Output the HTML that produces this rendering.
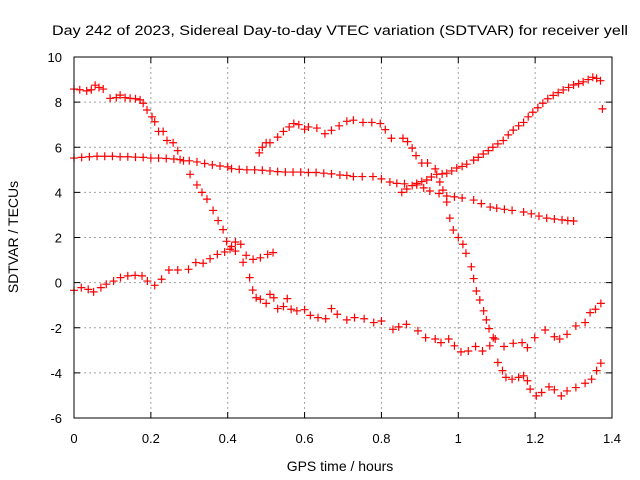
<!DOCTYPE html>
<html><head><meta charset="utf-8"><style>
body{margin:0;background:#fff}
svg{display:block;font-family:"Liberation Sans",sans-serif}
</style></head><body>
<svg id="chart" width="640" height="480" viewBox="0 0 640 480" xmlns="http://www.w3.org/2000/svg">
<rect width="640" height="480" fill="#fff"/>
<text x="340" y="35" font-size="13.5" text-anchor="middle" textLength="576" lengthAdjust="spacingAndGlyphs">Day 242 of 2023, Sidereal Day-to-day VTEC variation (SDTVAR) for receiver yell</text>
<text x="340" y="471" font-size="14" text-anchor="middle">GPS time / hours</text>
<text transform="translate(18,237) rotate(-90)" font-size="14" text-anchor="middle">SDTVAR / TECUs</text>
<g id="grid"></g><g id="ticks"></g><g id="marks"></g>
<rect x="74" y="57" width="538" height="361" fill="none" stroke="#000" stroke-width="1"/>
</svg>
<script>
const xTicks=[0,0.2,0.4,0.6,0.8,1,1.2,1.4];
const xTickLabels=["0","0.2","0.4","0.6","0.8","1","1.2","1.4"];
const yTicks=[-6,-4,-2,0,2,4,6,8,10];
const yTickLabels=["-6","-4","-2","0","2","4","6","8","10"];
const xA=[0,0.015,0.033,0.045,0.055,0.065,0.076,0.094,0.11,0.12,0.133,0.146,0.16,0.172,0.18,0.19,0.203,0.21,0.22,0.232,0.242,0.258,0.27,0.285,0.302,0.32,0.333,0.346,0.362,0.375,0.388,0.397,0.41,0.42,0.44,0.457,0.465,0.474,0.485,0.5,0.51,0.52,0.53,0.545,0.555,0.565,0.58,0.6,0.615,0.635,0.655,0.67,0.685,0.71,0.73,0.755,0.78,0.8,0.83,0.845,0.865,0.895,0.915,0.94,0.955,0.975,0.99,1.007,1.026,1.045,1.063,1.082,1.096,1.119,1.143,1.166,1.18,1.199,1.226,1.25,1.264,1.283,1.306,1.33,1.343,1.357,1.371];
const yA=[8.58,8.55,8.5,8.55,8.75,8.65,8.58,8.17,8.2,8.31,8.2,8.17,8.15,8.1,7.95,7.65,7.35,7.13,6.7,6.7,6.3,6.2,5.85,5.4,4.8,4.33,4.0,3.7,3.2,2.75,2.35,1.83,1.6,1.4,0.9,0.22,-0.33,-0.67,-0.74,-0.92,-0.52,-0.67,-1.15,-1.06,-0.71,-1.18,-1.25,-1.2,-1.45,-1.55,-1.6,-1.15,-1.4,-1.65,-1.55,-1.6,-1.77,-1.7,-2.07,-1.96,-1.85,-2.14,-2.44,-2.5,-2.66,-2.5,-2.8,-3.07,-3.03,-2.83,-3.03,-2.8,-2.5,-2.83,-2.69,-2.66,-2.88,-2.44,-2.1,-2.4,-2.5,-2.29,-1.92,-1.77,-1.33,-1.18,-0.92];
const xB=[0,0.02,0.04,0.06,0.08,0.1,0.12,0.14,0.16,0.18,0.2,0.22,0.24,0.26,0.276,0.3,0.32,0.34,0.36,0.38,0.4,0.41,0.43,0.45,0.47,0.49,0.51,0.53,0.55,0.57,0.59,0.61,0.63,0.65,0.67,0.692,0.71,0.727,0.75,0.778,0.8,0.822,0.84,0.86,0.892,0.91,0.926,0.95,0.97,0.99,1.01,1.04,1.06,1.083,1.1,1.12,1.14,1.17,1.19,1.21,1.23,1.25,1.27,1.285,1.3];
const yB=[5.52,5.55,5.58,5.6,5.6,5.6,5.58,5.58,5.56,5.55,5.52,5.52,5.5,5.48,5.45,5.4,5.35,5.28,5.22,5.17,5.13,5.05,5.02,5.0,5.0,4.98,4.95,4.92,4.9,4.9,4.9,4.88,4.88,4.85,4.82,4.77,4.75,4.7,4.7,4.7,4.6,4.46,4.4,4.38,4.33,4.2,4.06,3.95,3.84,3.8,3.75,3.66,3.5,3.35,3.3,3.25,3.2,3.13,3.05,2.95,2.86,2.82,2.78,2.75,2.73];
const xC=[0,0.019,0.037,0.051,0.07,0.084,0.103,0.121,0.14,0.159,0.177,0.191,0.21,0.228,0.247,0.27,0.298,0.317,0.336,0.354,0.373,0.392,0.406,0.42,0.434,0.448,0.466,0.485,0.504,0.518];
const yC=[-0.34,-0.22,-0.3,-0.41,-0.22,-0.07,0.07,0.22,0.3,0.32,0.3,0.07,-0.12,0.15,0.56,0.56,0.59,0.89,0.86,1.06,1.25,1.36,1.48,1.8,1.7,1.21,1.03,1.1,1.25,1.33];
const xD=[0.482,0.49,0.5,0.51,0.53,0.545,0.56,0.572,0.585,0.6,0.61,0.632,0.653,0.67,0.69,0.71,0.727,0.752,0.775,0.797,0.81,0.826,0.856,0.868,0.88,0.89,0.905,0.92,0.94,0.952,0.96,0.97,0.978,0.987,1.0,1.012,1.02,1.034,1.04,1.047,1.056,1.066,1.073,1.08,1.091,1.103,1.115,1.124,1.14,1.157,1.17,1.18,1.187,1.203,1.217,1.236,1.25,1.268,1.283,1.306,1.33,1.347,1.36,1.371];
const yD=[5.75,6.0,6.2,6.2,6.45,6.7,6.9,7.05,7.0,6.8,6.9,6.85,6.6,6.75,6.95,7.15,7.2,7.1,7.1,7.05,6.78,6.4,6.4,6.25,5.96,5.63,5.3,5.3,5.04,4.46,4.1,3.57,2.86,2.33,2.0,1.7,1.3,0.7,0.18,-0.37,-0.77,-1.25,-1.65,-2.04,-2.44,-3.54,-3.9,-4.2,-4.28,-4.2,-4.13,-4.35,-4.72,-5.02,-4.87,-4.62,-4.75,-5.02,-4.8,-4.65,-4.46,-4.28,-3.9,-3.57];
const xE=[0.853,0.866,0.88,0.892,0.905,0.918,0.93,0.944,0.958,0.97,0.983,0.996,1.01,1.022,1.04,1.052,1.065,1.078,1.09,1.103,1.117,1.13,1.143,1.157,1.17,1.182,1.194,1.207,1.22,1.233,1.247,1.26,1.273,1.287,1.3,1.313,1.325,1.338,1.35,1.36,1.37,1.375];
const yE=[4.0,4.15,4.3,4.4,4.48,4.55,4.68,4.8,4.82,4.85,4.95,5.08,5.15,5.25,5.43,5.55,5.7,5.85,6.0,6.15,6.3,6.55,6.76,6.95,7.1,7.35,7.55,7.75,7.95,8.15,8.3,8.42,8.54,8.65,8.76,8.82,8.9,9.0,9.1,9.05,8.95,7.7];

const X0=74,X1=612,Y0=418,Y1=57;
const sx=v=>X0+(v-0)/(1.4-0)*(X1-X0);
const sy=v=>Y0-(v+6)/(16)*(Y0-Y1);
const NS="http://www.w3.org/2000/svg";
const grid=document.getElementById('grid'),ticks=document.getElementById('ticks'),marks=document.getElementById('marks');
function mk(tag,attrs,parent){const e=document.createElementNS(NS,tag);for(const k in attrs)e.setAttribute(k,attrs[k]);parent.appendChild(e);return e;}
xTicks.forEach((t,i)=>{
  const x=sx(t);
  if(i>0&&i<xTicks.length-1){
    const g=mk('line',{x1:x,x2:x,y1:Y1,y2:Y0,stroke:'#a0a0a0','stroke-dasharray':'2,3'},grid);
    
    
  }
  mk('line',{x1:x,x2:x,y1:Y0,y2:Y0-6,stroke:'#000'},ticks);
  mk('line',{x1:x,x2:x,y1:Y1,y2:Y1+6,stroke:'#000'},ticks);
  const l=mk('text',{x:x,y:443,'font-size':13,'text-anchor':'middle'},ticks);
  l.textContent=xTickLabels[i];
  
  
});
yTicks.forEach((t,i)=>{
  const y=sy(t);
  if(i>0&&i<yTicks.length-1){
    const g=mk('line',{x1:X0,x2:X1,y1:y,y2:y,stroke:'#a0a0a0','stroke-dasharray':'2,3'},grid);
    
    
  }
  mk('line',{x1:X0,x2:X0+6,y1:y,y2:y,stroke:'#000'},ticks);
  mk('line',{x1:X1,x2:X1-6,y1:y,y2:y,stroke:'#000'},ticks);
  const l=mk('text',{x:62,y:y+5,'font-size':13,'text-anchor':'end'},ticks);
  l.textContent=yTickLabels[i];
  
  
});
const series=[[xA,yA,'series-a'],[xB,yB,'series-b'],[xC,yC,'series-c'],[xD,yD,'series-d'],[xE,yE,'series-e']];
series.forEach(([xs,ys,name])=>{
  const g=mk('g',{},marks);
  
  
  xs.forEach((xv,i)=>{
    const x=sx(xv),y=sy(ys[i]);
    const p=mk('path',{d:`M${x-4},${y}H${x+4}M${x},${y-4}V${y+4}`,stroke:'#f00','stroke-width':1.2,fill:'none'},g);
    
    
  });
});
</script>
</body></html>
